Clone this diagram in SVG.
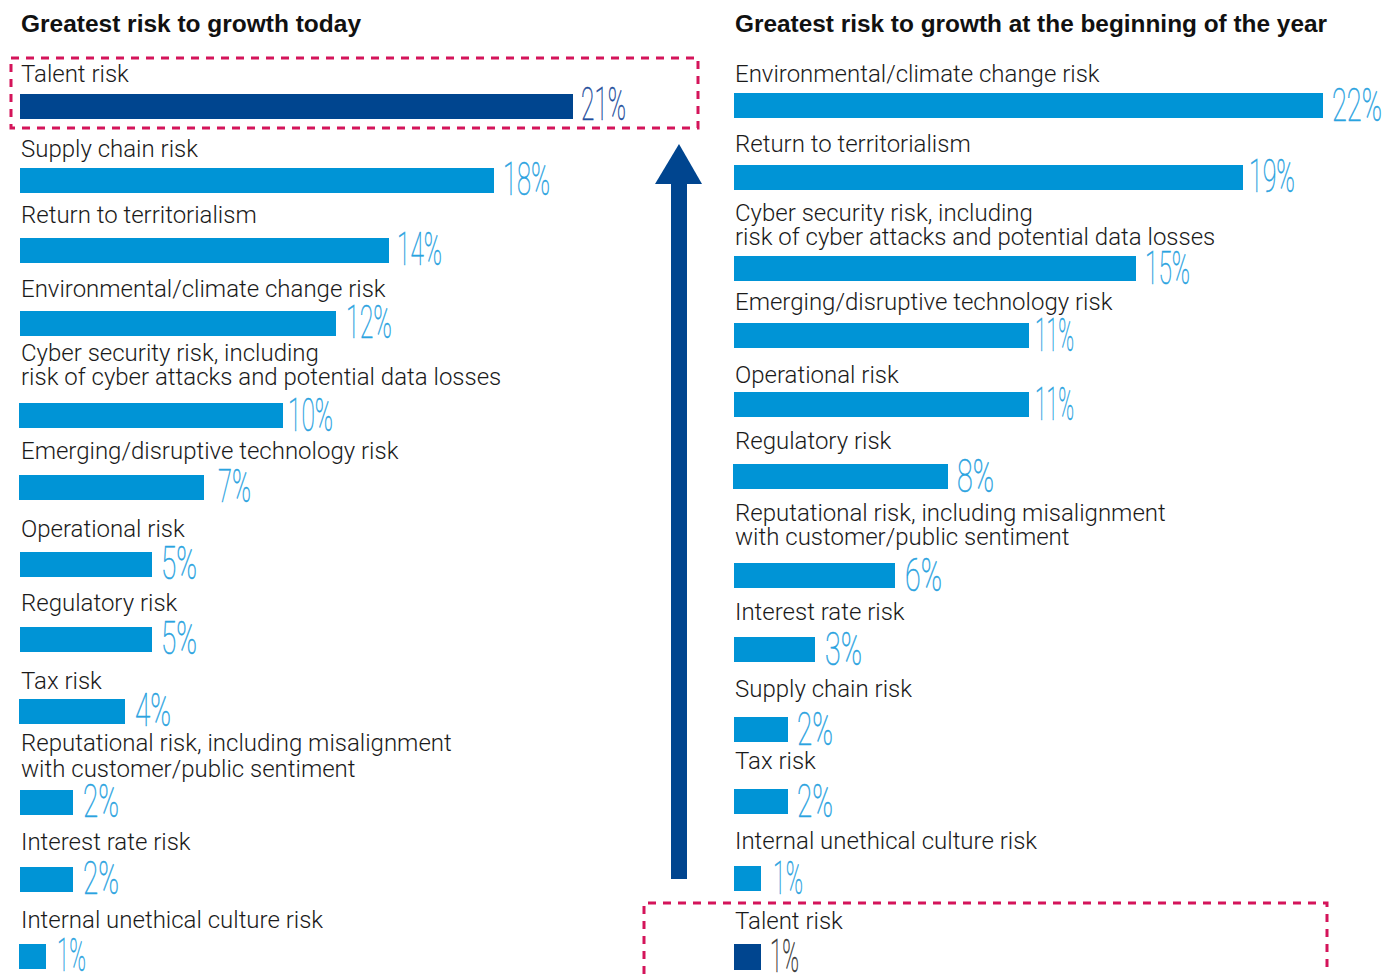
<svg xmlns="http://www.w3.org/2000/svg" width="1384" height="974" viewBox="0 0 1384 974">
<style>
.title{font-family:"Liberation Sans",Arial,sans-serif;font-weight:bold;font-size:23px;fill:#111}
.lbl{font-family:Roboto,"Liberation Sans",sans-serif;font-weight:300;font-size:24px;fill:#1a1a1a}
.pct{font-family:Roboto,"Liberation Sans",sans-serif;font-weight:100;font-size:46px;fill:#2aa3df;stroke:#2aa3df;stroke-width:0.6}
.pctd{fill:#1f4e9c;stroke:#1f4e9c}
.pctg{fill:#333;stroke:#333}
.bar{fill:#0094d6}
.dark{fill:#00458f}
.box{fill:none;stroke:#d4145a;stroke-width:3;stroke-dasharray:8 7}
.arrow{fill:#00458f}
</style>
<rect width="1384" height="974" fill="#fff"/>
<text class="title" x="21" y="32" textLength="340" lengthAdjust="spacingAndGlyphs">Greatest risk to growth today</text>
<text class="title" x="735" y="32" textLength="592" lengthAdjust="spacingAndGlyphs">Greatest risk to growth at the beginning of the year</text>

<g id="highlight-boxes">
<rect class="box" x="11" y="58" width="687" height="70"/>
<path class="box" d="M644 974 V903 H1327 V974"/>
</g>

<g id="connectors">
<rect class="arrow" x="671" y="182" width="16" height="697"/>
<polygon class="arrow" points="679,144 702,184 655,184"/>
</g>

<g id="left-talent">
<text class="lbl" x="21" y="82">Talent risk</text>
<rect class="dark" x="20" y="94" width="553" height="25"/>
<text class="pct pctd" x="581" y="120" textLength="45" lengthAdjust="spacingAndGlyphs">21%</text>
</g>
<g id="left-supply">
<text class="lbl" x="21" y="157">Supply chain risk</text>
<rect class="bar" x="20" y="168" width="474" height="25"/>
<text class="pct" x="503" y="195" textLength="47" lengthAdjust="spacingAndGlyphs">18%</text>
</g>
<g id="left-return">
<text class="lbl" x="21" y="223">Return to territorialism</text>
<rect class="bar" x="20" y="238" width="369" height="25"/>
<text class="pct" x="397" y="265" textLength="45" lengthAdjust="spacingAndGlyphs">14%</text>
</g>
<g id="left-env">
<text class="lbl" x="21" y="297">Environmental/climate change risk</text>
<rect class="bar" x="20" y="311" width="316" height="25"/>
<text class="pct" x="346" y="338" textLength="46" lengthAdjust="spacingAndGlyphs">12%</text>
</g>
<g id="left-cyber">
<text class="lbl" x="21" y="361">Cyber security risk, including</text>
<text class="lbl" x="21" y="385">risk of cyber attacks and potential data losses</text>
<rect class="bar" x="19" y="403" width="264" height="25"/>
<text class="pct" x="288" y="431" textLength="45" lengthAdjust="spacingAndGlyphs">10%</text>
</g>
<g id="left-emerging">
<text class="lbl" x="21" y="459">Emerging/disruptive technology risk</text>
<rect class="bar" x="19" y="475" width="185" height="25"/>
<text class="pct" x="218" y="502" textLength="33" lengthAdjust="spacingAndGlyphs">7%</text>
</g>
<g id="left-operational">
<text class="lbl" x="21" y="537">Operational risk</text>
<rect class="bar" x="20" y="552" width="132" height="25"/>
<text class="pct" x="161" y="579" textLength="36" lengthAdjust="spacingAndGlyphs">5%</text>
</g>
<g id="left-regulatory">
<text class="lbl" x="21" y="611">Regulatory risk</text>
<rect class="bar" x="20" y="627" width="132" height="25"/>
<text class="pct" x="161" y="654" textLength="36" lengthAdjust="spacingAndGlyphs">5%</text>
</g>
<g id="left-tax">
<text class="lbl" x="21" y="689">Tax risk</text>
<rect class="bar" x="19" y="699" width="106" height="25"/>
<text class="pct" x="135" y="726" textLength="36" lengthAdjust="spacingAndGlyphs">4%</text>
</g>
<g id="left-reputational">
<text class="lbl" x="21" y="751">Reputational risk, including misalignment</text>
<text class="lbl" x="21" y="777">with customer/public sentiment</text>
<rect class="bar" x="20" y="790" width="53" height="25"/>
<text class="pct" x="83" y="817" textLength="36" lengthAdjust="spacingAndGlyphs">2%</text>
</g>
<g id="left-interest">
<text class="lbl" x="21" y="850">Interest rate risk</text>
<rect class="bar" x="20" y="867" width="53" height="25"/>
<text class="pct" x="83" y="894" textLength="36" lengthAdjust="spacingAndGlyphs">2%</text>
</g>
<g id="left-internal">
<text class="lbl" x="21" y="928">Internal unethical culture risk</text>
<rect class="bar" x="19" y="944" width="27" height="25"/>
<text class="pct" x="57" y="971" textLength="29" lengthAdjust="spacingAndGlyphs">1%</text>
</g>

<g id="right-env">
<text class="lbl" x="735" y="82">Environmental/climate change risk</text>
<rect class="bar" x="734" y="93" width="589" height="25"/>
<text class="pct" x="1332" y="121" textLength="50" lengthAdjust="spacingAndGlyphs">22%</text>
</g>
<g id="right-return">
<text class="lbl" x="735" y="152">Return to territorialism</text>
<rect class="bar" x="734" y="165" width="509" height="25"/>
<text class="pct" x="1249" y="192" textLength="46" lengthAdjust="spacingAndGlyphs">19%</text>
</g>
<g id="right-cyber">
<text class="lbl" x="735" y="221">Cyber security risk, including</text>
<text class="lbl" x="735" y="245">risk of cyber attacks and potential data losses</text>
<rect class="bar" x="734" y="256" width="402" height="25"/>
<text class="pct" x="1145" y="284" textLength="45" lengthAdjust="spacingAndGlyphs">15%</text>
</g>
<g id="right-emerging">
<text class="lbl" x="735" y="310">Emerging/disruptive technology risk</text>
<rect class="bar" x="734" y="323" width="295" height="25"/>
<text class="pct" x="1035" y="351" textLength="39" lengthAdjust="spacingAndGlyphs">11%</text>
</g>
<g id="right-operational">
<text class="lbl" x="735" y="383">Operational risk</text>
<rect class="bar" x="734" y="392" width="295" height="25"/>
<text class="pct" x="1035" y="420" textLength="39" lengthAdjust="spacingAndGlyphs">11%</text>
</g>
<g id="right-regulatory">
<text class="lbl" x="735" y="449">Regulatory risk</text>
<rect class="bar" x="733" y="464" width="215" height="25"/>
<text class="pct" x="957" y="492" textLength="37" lengthAdjust="spacingAndGlyphs">8%</text>
</g>
<g id="right-reputational">
<text class="lbl" x="735" y="521">Reputational risk, including misalignment</text>
<text class="lbl" x="735" y="545">with customer/public sentiment</text>
<rect class="bar" x="734" y="563" width="161" height="25"/>
<text class="pct" x="905" y="591" textLength="37" lengthAdjust="spacingAndGlyphs">6%</text>
</g>
<g id="right-interest">
<text class="lbl" x="735" y="620">Interest rate risk</text>
<rect class="bar" x="734" y="637" width="81" height="25"/>
<text class="pct" x="825" y="665" textLength="37" lengthAdjust="spacingAndGlyphs">3%</text>
</g>
<g id="right-supply">
<text class="lbl" x="735" y="697">Supply chain risk</text>
<rect class="bar" x="734" y="717" width="54" height="25"/>
<text class="pct" x="797" y="745" textLength="36" lengthAdjust="spacingAndGlyphs">2%</text>
</g>
<g id="right-tax">
<text class="lbl" x="735" y="769">Tax risk</text>
<rect class="bar" x="734" y="789" width="54" height="25"/>
<text class="pct" x="797" y="817" textLength="36" lengthAdjust="spacingAndGlyphs">2%</text>
</g>
<g id="right-internal">
<text class="lbl" x="735" y="849">Internal unethical culture risk</text>
<rect class="bar" x="734" y="866" width="27" height="25"/>
<text class="pct" x="773" y="894" textLength="30" lengthAdjust="spacingAndGlyphs">1%</text>
</g>
<g id="right-talent">
<text class="lbl" x="735" y="929">Talent risk</text>
<rect class="dark" x="734" y="944" width="27" height="26"/>
<text class="pct pctg" x="770" y="972" textLength="29" lengthAdjust="spacingAndGlyphs">1%</text>
</g>
</svg>
